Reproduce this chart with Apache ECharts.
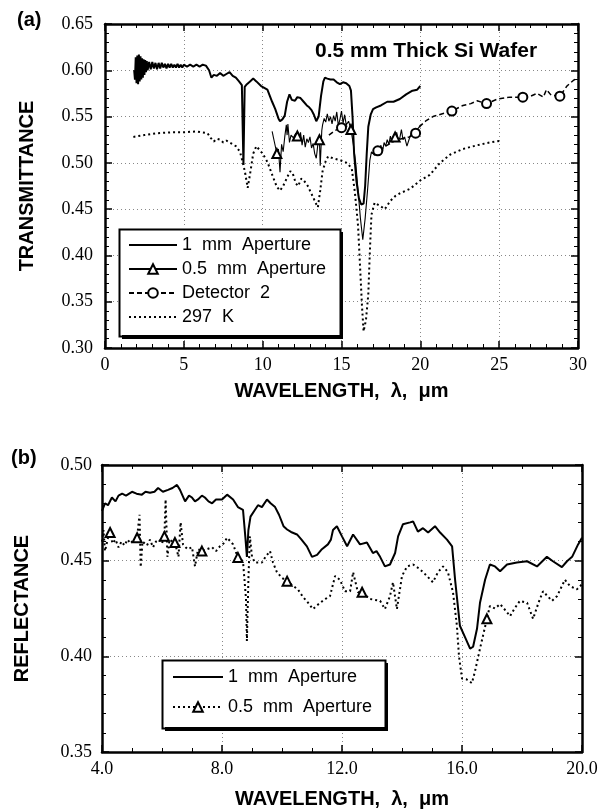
<!DOCTYPE html>
<html>
<head>
<meta charset="utf-8">
<script src="https://cdn.jsdelivr.net/npm/echarts@6/dist/echarts.min.js"></script>
<style>
  html, body { margin: 0; padding: 0; background: #fff; }
  #chart { width: 602px; height: 810px; }
</style>
</head>
<body>
<div id="chart"></div>
<script>
// (a) transmittance, 0.5 mm thick Si wafer. third value = 1 marks a symbol
const tA_1mm = [
  [1.85,0.600],[1.9,0.590],[1.95,0.614],[2.0,0.586],[2.05,0.616],[2.1,0.585],[2.15,0.617],[2.2,0.588],
  [2.25,0.615],[2.3,0.590],[2.35,0.613],[2.4,0.592],[2.45,0.612],[2.5,0.595],[2.55,0.611],
  [2.6,0.598],[2.65,0.610],[2.7,0.600],[2.8,0.609],[2.9,0.601],[3.0,0.609],[3.1,0.602],[3.2,0.608],
  [3.3,0.601],[3.4,0.608],[3.5,0.602],[3.6,0.608],[3.7,0.603],[3.8,0.607],[3.9,0.602],[4.0,0.607],
  [4.1,0.603],[4.2,0.607],[4.3,0.603],[4.4,0.606],[4.5,0.603],[4.6,0.607],[4.7,0.603],[4.8,0.606],
  [4.9,0.603],[5.0,0.606],[5.2,0.604],[5.4,0.606],[5.6,0.604],[5.8,0.606],[6.0,0.604],[6.2,0.606],
  [6.4,0.605],[6.5,0.606],[6.6,0.600],[6.75,0.592],[6.9,0.595],[7.1,0.594],[7.3,0.597],
  [7.5,0.594],[7.7,0.596],[7.9,0.598],[8.1,0.594],[8.3,0.592],[8.5,0.588],[8.68,0.584],
  [8.78,0.498],[8.86,0.582],[9.0,0.585],[9.2,0.588],[9.4,0.591],[9.6,0.588],[9.9,0.583],
  [10.3,0.579],[10.6,0.566],[10.8,0.558],[11.0,0.548],[11.1,0.545],[11.25,0.547],[11.4,0.551],
  [11.55,0.566],[11.7,0.574],[11.85,0.568],[12.05,0.567],[12.2,0.571],[12.4,0.570],[12.6,0.566],
  [12.8,0.562],[12.95,0.560],[13.1,0.557],[13.25,0.552],[13.4,0.545],[13.55,0.550],[13.7,0.572],
  [13.85,0.588],[13.95,0.592],[14.1,0.591],[14.3,0.590],[14.5,0.590],[14.7,0.587],[14.9,0.585],
  [15.1,0.587],[15.3,0.586],[15.5,0.583],[15.6,0.578],[15.7,0.550],[15.8,0.510],[15.95,0.480],
  [16.1,0.462],[16.25,0.455],[16.4,0.456],[16.5,0.475],[16.6,0.510],[16.7,0.539],[16.85,0.552],
  [17.0,0.558],[17.2,0.560],[17.5,0.562],[17.9,0.566],[18.3,0.566],[18.7,0.569],[19.1,0.574],
  [19.5,0.578],[19.8,0.579],[20.0,0.583]
];
const tA_05mm = [
  [10.6,0.534],[10.75,0.522],[10.9,0.510,1],[11.0,0.515],[11.1,0.490],[11.2,0.520],[11.3,0.512],
  [11.4,0.528],[11.5,0.541],[11.55,0.530],[11.6,0.542],[11.7,0.522],[11.8,0.530],[11.95,0.527],
  [12.1,0.532],[12.2,0.529,1],[12.3,0.524],[12.4,0.533],[12.5,0.519],[12.6,0.530],[12.7,0.517],
  [12.8,0.526],[12.9,0.522],[13.0,0.528],[13.1,0.516],[13.2,0.521],[13.3,0.510],[13.4,0.505],
  [13.5,0.520],[13.6,0.525,1],[13.65,0.497],[13.75,0.535],[13.8,0.541],[13.9,0.548],[14.0,0.544],
  [14.1,0.553],[14.2,0.545],[14.3,0.550],[14.4,0.542],[14.5,0.551],[14.6,0.545],[14.7,0.555],
  [14.8,0.540],[14.9,0.547],[15.0,0.556],[15.1,0.543],[15.2,0.552],[15.3,0.541],[15.45,0.545],
  [15.6,0.536,1],[15.75,0.520],[15.9,0.500],[16.05,0.470],[16.2,0.440],[16.35,0.417],[16.5,0.440],
  [16.65,0.470],[16.8,0.503],[16.9,0.512],[17.0,0.514],[17.1,0.508],[17.2,0.516],[17.4,0.514],
  [17.5,0.519],[17.6,0.512],[17.7,0.522],[17.8,0.518],[17.9,0.525],[18.0,0.520],[18.1,0.529],
  [18.2,0.522],[18.4,0.528,1],[18.5,0.533],[18.6,0.524],[18.7,0.527],[18.8,0.536],[18.9,0.525],
  [19.0,0.528],[19.15,0.518],[19.3,0.526],[19.45,0.533],[19.6,0.530],[19.75,0.535],[19.9,0.538],
  [20.0,0.541]
];
const tA_det2 = [
  [14.2,0.530],[14.6,0.535],[15.0,0.538,1],[15.3,0.540],[15.6,0.536],['-','-'],
  [16.9,0.510],[17.3,0.513,1],[17.8,0.518],[18.3,0.523],[18.8,0.526],[19.3,0.528],[19.7,0.532,1],
  [20.0,0.540],[20.4,0.546],[20.8,0.550],[21.4,0.553],[22.0,0.556,1],[22.7,0.562],[23.2,0.564],
  [23.6,0.567],[24.2,0.564,1],[24.9,0.569],[25.7,0.571],[26.5,0.571,1],[27.0,0.572],[27.4,0.575],
  [27.8,0.571],[28.0,0.579],[28.3,0.573],[28.85,0.572,1],[29.3,0.583],[29.7,0.589],[30.0,0.592]
];
const tA_297K = [
  [1.8,0.528],[2.5,0.530],[3.3,0.532],[4.2,0.533],[5.0,0.533],[5.8,0.534],[6.5,0.532],[6.7,0.527],
  [6.9,0.523],[7.1,0.526],[7.3,0.525],[7.5,0.522],[7.7,0.524],[8.0,0.521],[8.3,0.518],[8.56,0.512],
  [8.75,0.500],[8.9,0.488],[9.05,0.473],[9.2,0.488],[9.4,0.510],[9.6,0.518],[9.8,0.514],[10.0,0.510],
  [10.3,0.501],[10.65,0.485],[10.9,0.474],[11.1,0.470],[11.3,0.475],[11.6,0.486],[11.75,0.491],
  [11.9,0.489],[12.1,0.478],[12.25,0.475],[12.45,0.483],[12.6,0.481],[12.75,0.478],[12.9,0.474],
  [13.05,0.468],[13.2,0.463],[13.35,0.457],[13.5,0.452],[13.65,0.470],[13.8,0.491],[14.0,0.502],
  [14.15,0.507],[14.45,0.505],[14.9,0.503],[15.35,0.500],[15.65,0.494],[15.85,0.468],[16.05,0.432],
  [16.2,0.380],[16.3,0.345],[16.4,0.318],[16.55,0.330],[16.7,0.358],[16.8,0.405],[16.9,0.444],
  [17.1,0.457],[17.4,0.454],[17.75,0.450],[18.1,0.459],[18.4,0.464],[18.7,0.467],[19.35,0.472],
  [20.0,0.481],[20.6,0.487],[21.25,0.500],[21.9,0.509],[22.7,0.515],[23.6,0.519],[24.4,0.522],
  [25.1,0.524]
];

// (b) reflectance
const rB_1mm = [
  [4.0,0.476],[4.1,0.480],[4.2,0.479],[4.33,0.483],[4.45,0.481],[4.55,0.484],[4.67,0.485],[4.8,0.484],
  [5.0,0.486],[5.15,0.485],[5.33,0.4845],[5.45,0.486],[5.6,0.4855],[5.75,0.486],[5.87,0.488],
  [6.03,0.486],[6.2,0.487],[6.35,0.488],[6.5,0.4896],[6.6,0.487],[6.77,0.481],[6.9,0.484],[7.0,0.483],
  [7.1,0.481],[7.2,0.482],[7.33,0.484],[7.43,0.483],[7.55,0.481],[7.67,0.480],[7.8,0.482],[8.0,0.482],
  [8.17,0.4845],[8.37,0.482],[8.53,0.478],[8.7,0.4766],[8.78,0.462],[8.83,0.452],[8.88,0.466],
  [8.95,0.473],[9.1,0.4766],[9.2,0.479],[9.33,0.478],[9.5,0.482],[9.62,0.480],[9.77,0.478],[9.9,0.474],
  [10.05,0.468],[10.17,0.4663],[10.3,0.465],[10.5,0.4637],[10.65,0.461],[10.83,0.4575],[11.0,0.452],
  [11.17,0.453],[11.33,0.456],[11.53,0.4585],[11.63,0.461],[11.7,0.466],[11.83,0.468],[12.0,0.4627],
  [12.17,0.4575],[12.37,0.4637],[12.6,0.4585],[12.83,0.4595],[13.03,0.454],[13.15,0.455],[13.27,0.452],
  [13.43,0.447],[13.6,0.448],[13.77,0.454],[13.87,0.4627],[14.03,0.469],[14.27,0.470],[14.37,0.4705],
  [14.53,0.4652],[14.7,0.467],[14.87,0.4647],[15.1,0.468],[15.27,0.4647],[15.5,0.461],[15.67,0.4575],
  [15.77,0.440],[15.93,0.416],[16.1,0.410],[16.27,0.404],[16.37,0.405],[16.5,0.4144],[16.6,0.428],
  [16.77,0.440],[16.93,0.448],[17.1,0.447],[17.27,0.4445],[17.5,0.448],[17.83,0.449],[18.17,0.4497],
  [18.5,0.447],[18.83,0.452],[19.03,0.4497],[19.33,0.4466],[19.5,0.4497],[19.67,0.452],[19.87,0.4585],
  [20.0,0.462]
];
const rB_05mm = [
  [4.0,0.460],[4.05,0.466],[4.1,0.455],[4.2,0.462],[4.27,0.4647,1],[4.35,0.459],[4.45,0.461],
  [4.55,0.457],[4.65,0.460],[4.75,0.458],[4.85,0.461],[4.95,0.459],[5.05,0.461],[5.17,0.462,1],
  [5.25,0.474],[5.29,0.4466],[5.35,0.460],[5.5,0.458],[5.6,0.461],[5.7,0.457],[5.8,0.460],[5.9,0.461],
  [6.0,0.459],[6.08,0.4627,1],[6.12,0.482],[6.18,0.452],[6.25,0.461],[6.35,0.460],[6.43,0.4595,1],
  [6.55,0.452],[6.62,0.470],[6.7,0.4585],[6.85,0.456],[7.0,0.457],[7.1,0.447],[7.2,0.456],
  [7.33,0.455,1],[7.5,0.456],[7.67,0.457],[7.8,0.455],[7.93,0.4575],[8.05,0.459],[8.17,0.462],
  [8.37,0.4585],[8.53,0.4517,1],[8.7,0.4497],[8.8,0.430],[8.83,0.408],[8.88,0.440],[8.93,0.4627],
  [9.0,0.452],[9.1,0.449],[9.33,0.449],[9.45,0.452],[9.6,0.455],[9.7,0.449],[9.83,0.444],[10.0,0.441],
  [10.17,0.4393,1],[10.35,0.437],[10.53,0.435],[10.7,0.431],[10.87,0.428],[11.03,0.4247],[11.27,0.428],
  [11.45,0.430],[11.6,0.4315],[11.77,0.442],[11.93,0.440],[12.1,0.434],[12.27,0.434],[12.37,0.444],
  [12.53,0.4335],[12.67,0.4335,1],[12.93,0.430],[13.27,0.429],[13.43,0.4247],[13.6,0.4315],
  [13.7,0.4387],[13.83,0.4247],[14.0,0.442],[14.17,0.447],[14.37,0.448],[14.6,0.4455],[14.83,0.442],
  [15.03,0.4387],[15.2,0.444],[15.37,0.447],[15.53,0.444],[15.7,0.4335],[15.83,0.416],[15.9,0.400],
  [16.0,0.3884],[16.15,0.388],[16.33,0.386],[16.43,0.392],[16.6,0.404],[16.83,0.4196,1],[16.93,0.4263],
  [17.1,0.425],[17.27,0.4273],[17.45,0.424],[17.6,0.421],[17.75,0.425],[17.93,0.429],[18.17,0.428],
  [18.37,0.4196],[18.55,0.428],[18.7,0.434],[19.0,0.429],[19.17,0.4315],[19.43,0.440],[19.6,0.4367],
  [19.83,0.435],[20.0,0.4377]
];

const namesA = ['a:1  mm  Aperture', 'a:0.5  mm  Aperture', 'a:Detector  2', 'a:297  K'];
const namesB = ['b:1  mm  Aperture', 'b:0.5  mm  Aperture'];

const serif = 'Liberation Serif';
const sans = 'Liberation Sans';
const black = '#000';

const chart = echarts.init(document.getElementById('chart'));

const line = { lineStyle: { color: black, width: 2.5 }, onZero: false };
const tick = { inside: true, length: 7, lineStyle: { color: black, width: 1.5 } };
const grid = { show: true, lineStyle: { color: '#888', width: 1, type: [1, 3] } };
const nameStyle = { fontFamily: sans, fontWeight: 'bold', fontSize: 20, color: black };
const labelStyle = { color: black, fontFamily: serif, fontSize: 18 };

function axis(opt) {
  return Object.assign({
    type: 'value',
    axisLine: { show: true, ...line },
    axisTick: tick,
    splitLine: { show: false },
  }, opt);
}
function minor(n) {
  return { show: true, splitNumber: n, length: 4, lineStyle: { color: black } };
}
// legend box: black block shifted 4 px (the drop shadow) under the white legend, outline on top
function frame(key, x, y, w, h) {
  return [
    { type: 'rect', id: key + '-shadow', z: 5, left: x + 4, top: y + 4,
      shape: { width: w, height: h }, style: { fill: black } },
    { type: 'rect', id: key + '-outline', z: 7, left: x - 1, top: y - 1,
      shape: { width: w, height: h }, style: { fill: 'none', stroke: black, lineWidth: 2 } },
  ];
}

const pick = (v) => (v[2] ? 9 : 0);
// legend entries for the plain lines: hide the symbol, keep the line
const plain = (name) => ({ name, itemStyle: { opacity: 0 } });
const legendBase = {
  orient: 'vertical',
  selectedMode: false,
  z: 6,
  backgroundColor: '#fff',
  borderWidth: 0,
  itemHeight: 12,
  textStyle: { fontFamily: sans, fontSize: 18, color: black, lineHeight: 20 },
  formatter: (n) => n.slice(2),
};

chart.setOption({
  animation: false,
  backgroundColor: '#fff',
  title: [
    { text: '(a)', left: 12, top: 5, textStyle: nameStyle },
    { text: '(b)', left: 6, top: 443, textStyle: nameStyle },
    { text: '0.5 mm Thick Si Wafer', left: 310, top: 36, textStyle: { ...nameStyle, fontSize: 21 } },
  ],
  grid: [
    { left: 105, right: 24, top: 24, height: 324 },
    { left: 102, right: 20, top: 465, height: 289 },
  ],
  graphic: { elements: [...frame('legA', 118, 228, 221, 107), ...frame('legB', 161, 659, 223, 68)] },
  xAxis: [
    axis({ gridIndex: 0, min: 0, max: 30, interval: 5, position: 'bottom', minorTick: minor(5),
      axisLabel: { ...labelStyle, margin: 8 }, splitLine: grid,
      name: 'WAVELENGTH,  λ,  μm', nameLocation: 'middle', nameGap: 33, nameTextStyle: nameStyle }),
    axis({ gridIndex: 0, min: 0, max: 30, interval: 5, position: 'top', minorTick: minor(5),
      axisLabel: { show: false } }),
    axis({ gridIndex: 1, min: 4, max: 20, interval: 4, position: 'bottom', minorTick: minor(4),
      axisLabel: { ...labelStyle, margin: 8, formatter: (v) => v.toFixed(1) }, splitLine: grid,
      name: 'WAVELENGTH,  λ,  μm', nameLocation: 'middle', nameGap: 37, nameTextStyle: nameStyle }),
    axis({ gridIndex: 1, min: 4, max: 20, interval: 4, position: 'top', minorTick: minor(4),
      axisLabel: { show: false } }),
  ],
  yAxis: [
    axis({ gridIndex: 0, min: 0.3, max: 0.65, interval: 0.05, position: 'left', minorTick: minor(5),
      axisLabel: { ...labelStyle, margin: 12, formatter: (v) => v.toFixed(2) }, splitLine: grid,
      name: 'TRANSMITTANCE', nameLocation: 'middle', nameGap: 68, nameTextStyle: nameStyle }),
    axis({ gridIndex: 0, min: 0.3, max: 0.65, interval: 0.05, position: 'right', minorTick: minor(5),
      axisLabel: { show: false } }),
    axis({ gridIndex: 1, min: 0.35, max: 0.5, interval: 0.05, position: 'left', minorTick: minor(5),
      axisLabel: { ...labelStyle, margin: 10, formatter: (v) => v.toFixed(2) }, splitLine: grid,
      name: 'REFLECTANCE', nameLocation: 'middle', nameGap: 70, nameTextStyle: nameStyle }),
    axis({ gridIndex: 1, min: 0.35, max: 0.5, interval: 0.05, position: 'right', minorTick: minor(5),
      axisLabel: { show: false } }),
  ],
  legend: [
    Object.assign({}, legendBase, {
      data: [plain(namesA[0]), namesA[1], namesA[2], plain(namesA[3])],
      left: 118, top: 228, itemWidth: 48, itemGap: 4, padding: [7, 14, 8, 10] }),
    Object.assign({}, legendBase, {
      data: [plain(namesB[0]), namesB[1]],
      left: 161, top: 659, itemWidth: 50, itemGap: 10, padding: [8, 13, 10, 11] }),
  ],
  series: [
    { name: namesA[0], type: 'line', xAxisIndex: 0, yAxisIndex: 0, data: tA_1mm, symbol: 'none',
      lineStyle: { color: black, width: 2 }, itemStyle: { color: black } },
    { name: namesA[1], type: 'line', xAxisIndex: 0, yAxisIndex: 0, data: tA_05mm,
      symbol: 'emptyTriangle', symbolSize: pick, showSymbol: true,
      lineStyle: { color: black, width: 1.1 }, itemStyle: { color: black, borderWidth: 1.2 } },
    { name: namesA[2], type: 'line', xAxisIndex: 0, yAxisIndex: 0, data: tA_det2, connectNulls: false,
      symbol: 'emptyCircle', symbolSize: pick, showSymbol: true,
      lineStyle: { color: black, width: 1.5, type: [5, 3] }, itemStyle: { color: black, borderWidth: 1.2 } },
    { name: namesA[3], type: 'line', xAxisIndex: 0, yAxisIndex: 0, data: tA_297K, symbol: 'none',
      lineStyle: { color: black, width: 2, type: [2, 3] }, itemStyle: { color: black } },
    { name: namesB[0], type: 'line', xAxisIndex: 2, yAxisIndex: 2, data: rB_1mm, symbol: 'none',
      lineStyle: { color: black, width: 2 }, itemStyle: { color: black } },
    { name: namesB[1], type: 'line', xAxisIndex: 2, yAxisIndex: 2, data: rB_05mm,
      symbol: 'emptyTriangle', symbolSize: pick, showSymbol: true,
      lineStyle: { color: black, width: 2, type: [2, 3] }, itemStyle: { color: black, borderWidth: 1.2 } },
  ],
});
</script>
</body>
</html>
